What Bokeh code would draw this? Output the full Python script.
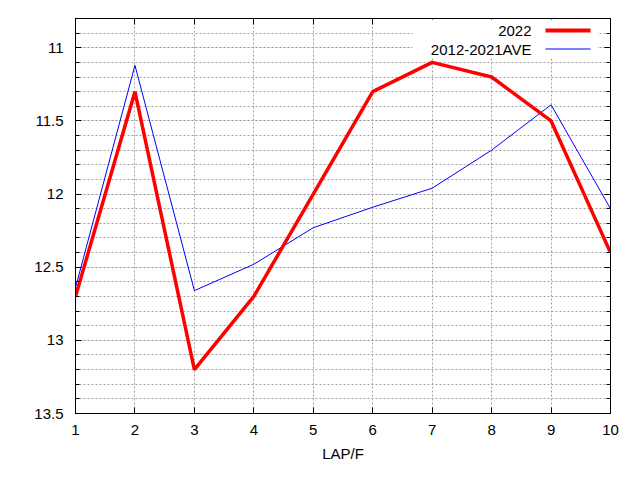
from bokeh.plotting import figure
from bokeh.models import (Range1d, FixedTicker, LinearAxis, Label, BoxAnnotation,
                          ColumnDataSource)
from bokeh.embed import file_html
from bokeh.resources import INLINE

laps = [1, 2, 3, 4, 5, 6, 7, 8, 9, 10]
y2022 = [12.7, 11.3, 13.2, 12.7, 12.0, 11.3, 11.1, 11.2, 11.5, 12.4]
y_ave = [12.64, 11.12, 12.66, 12.48, 12.23, 12.09, 11.96, 11.70, 11.39, 12.10]
series_names = ["2022", "2012-2021AVE"]
x_ticks = [1, 2, 3, 4, 5, 6, 7, 8, 9, 10]
y_ticks = [11, 11.5, 12, 12.5, 13, 13.5]
y_minor = [round(10.8 + 0.1 * i, 1) for i in range(28)]

FONT = "Liberation Sans"
FS = "15px"

W, H = 624, 464
FL, FR, FT, FB = 75, 610, 18, 415   # frame edges (canvas px)
FH = FB - FT

p = figure(width=W, height=H, output_backend="svg", toolbar_location=None,
           x_range=Range1d(1, 10), y_range=Range1d(13.5, 10.8),
           min_border_left=FL, min_border_right=W - FR, min_border_top=FT,
           min_border_bottom=H - FB, x_axis_label="LAP/F")
p.outline_line_color = "black"
p.outline_line_width = 1
p.background_fill_color = "white"
p.border_fill_color = "white"

p.xaxis.ticker = FixedTicker(ticks=x_ticks)
p.yaxis.ticker = FixedTicker(ticks=y_ticks, minor_ticks=y_minor)

for ax in p.xaxis + p.yaxis:
    ax.major_tick_in = 6
    ax.major_tick_out = 0
    ax.minor_tick_in = 4
    ax.minor_tick_out = 0
    ax.major_tick_line_color = "black"
    ax.minor_tick_line_color = "black"
    ax.axis_line_color = "black"
    ax.major_label_text_font = FONT
    ax.major_label_text_font_size = FS
    ax.major_label_text_color = "black"
    ax.axis_label_text_font = FONT
    ax.axis_label_text_font_size = FS
    ax.axis_label_text_font_style = "normal"
    ax.axis_label_text_color = "black"
p.yaxis.major_label_standoff = 12
p.xaxis.major_label_standoff = 11
p.xaxis.axis_label_standoff = 7

# mirrored tick marks (gnuplot style), labels not drawn
right = LinearAxis(ticker=FixedTicker(ticks=y_ticks, minor_ticks=y_minor))
top = LinearAxis(ticker=FixedTicker(ticks=x_ticks))
for ax in (right, top):
    ax.major_tick_in = 6
    ax.major_tick_out = 0
    ax.minor_tick_in = 4
    ax.minor_tick_out = 0
    ax.major_label_text_font_size = "1px"
    ax.major_label_text_color = None
    ax.major_label_standoff = 0
    ax.axis_line_color = "black"
top.minor_tick_line_color = None
p.add_layout(right, "right")
p.add_layout(top, "above")

grid_color = "#a0a0a0"
p.xgrid.ticker = FixedTicker(ticks=x_ticks)
p.xgrid.grid_line_color = grid_color
p.xgrid.grid_line_dash = "2 2"
p.ygrid.grid_line_color = grid_color
p.ygrid.grid_line_dash = "2 2"
p.ygrid.minor_grid_line_color = grid_color
p.ygrid.minor_grid_line_dash = "2 2"

src = ColumnDataSource(dict(lap=laps, y2022=y2022, ave=y_ave))
p.line("lap", "ave", source=src, line_color="blue", line_width=1)
p.line("lap", "y2022", source=src, line_color="red", line_width=3.5)

# legend, gnuplot style (text left of sample); screen units are frame-relative, y up
def sbox(l, r, t, b, color):
    return BoxAnnotation(left=l, right=r, top=t, bottom=b,
                         left_units="screen", right_units="screen",
                         top_units="screen", bottom_units="screen",
                         fill_color=color, fill_alpha=1, line_color=None)

y0 = FH - 14
dy = 19
p.add_layout(sbox(337, 522, FH - 3, FH - 41, "white"))
p.add_layout(sbox(470, 515, y0 + 2, y0 - 2, "red"))
p.add_layout(sbox(470, 515, y0 - dy + 1, y0 - dy, "blue"))
for i, name in enumerate(series_names):
    p.add_layout(Label(x=456, y=y0 - dy * i, x_units="screen", y_units="screen",
                       text=name, text_align="right", text_baseline="middle",
                       text_font=FONT, text_font_size=FS, text_color="black"))

open("out.html", "w").write(file_html(p, INLINE))
